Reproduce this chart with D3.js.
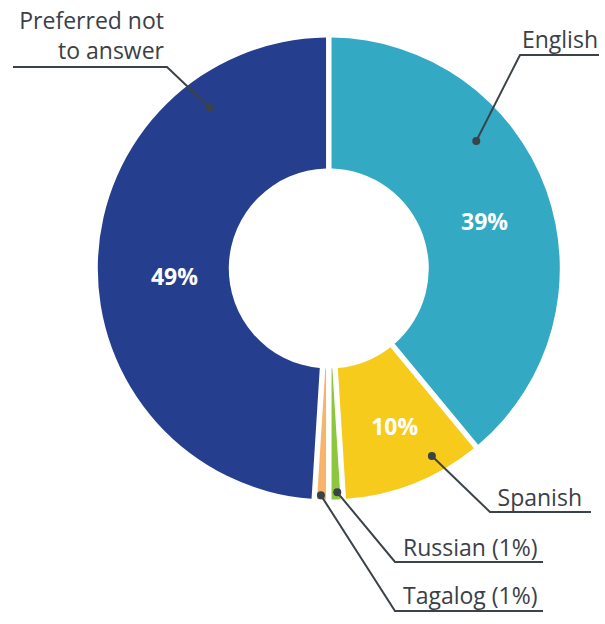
<!DOCTYPE html>
<html>
<head>
<meta charset="utf-8">
<script src="https://cdn.jsdelivr.net/npm/d3@7"></script>
<style>
  body { margin: 0; background: #fff; }
  svg text { font-family: "Open Sans", sans-serif; }
</style>
</head>
<body>
<div id="chart"></div>
<script>
// data
var categories = ["English", "Spanish", "Russian", "Tagalog", "Preferred not to answer"];
var values = [39, 10, 1, 1, 49];
var colors = ["#33a9c4", "#f6cb1b", "#8dc63f", "#f7b56b", "#253f8e"];
var pctLabels = ["39%", "10%", "", "", "49%"];
var calloutText = [["English"], ["Spanish"], ["Russian (1%)"], ["Tagalog (1%)"], ["Preferred not", "to answer"]];

var width = 605, height = 624;
var cx = 328.8, cy = 268.5, outerR = 231, innerR = 100;

var svg = d3.select("#chart").append("svg").attr("width", width).attr("height", height);
var g = svg.append("g").attr("transform", "translate(" + cx + "," + cy + ")");

var data = categories.map(function(c, i){ return {name: c, value: values[i], color: colors[i], pct: pctLabels[i], text: calloutText[i], idx: i}; });

var pie = d3.pie().sort(null).value(d => d.value);
var arcs = pie(data);

var arc = d3.arc().innerRadius(innerR).outerRadius(outerR)
    .padAngle(5.5 / Math.sqrt(innerR*innerR + outerR*outerR));

g.selectAll("path.slice").data(arcs).enter().append("path")
    .attr("class", "slice")
    .attr("d", arc)
    .attr("fill", d => d.data.color);

// small nudges so the % labels sit where the original has them
var pctShift = [[0, 9], [5, 5], [0, 0], [0, 0], [11, 14]];

g.selectAll("text.pct").data(arcs.filter(d => d.data.pct)).enter().append("text")
    .attr("class", "pct")
    .attr("x", d => arc.centroid(d)[0] + pctShift[d.data.idx][0])
    .attr("y", d => arc.centroid(d)[1] + pctShift[d.data.idx][1])
    .attr("dy", "0.35em")
    .attr("text-anchor", "middle")
    .attr("fill", "#fff")
    .style("font-size", "23px")
    .style("font-weight", "bold")
    .text(d => d.data.pct);

// callouts: where the dot sits in the slice (fraction of angle, radius) and where the label goes
var callouts = [
  {frac: 0.35, r: 195, lineY: 55, x1: 520, x2: 599, anchor: "end", tx: 598, ty: 48},
  {frac: 0.30, r: 214, lineY: 512, x1: 490, x2: 591, anchor: "end", tx: 582, ty: 506},
  {frac: 0.40, r: 224, lineY: 562, x1: 395, x2: 543, anchor: "start", tx: 403, ty: 556},
  {frac: 0.55, r: 227, lineY: 611, x1: 395, x2: 543, anchor: "start", tx: 403, ty: 604},
  {frac: 0.793, r: 200, lineY: 67, x1: 167, x2: 13, anchor: "end", tx: 164, ty: 29}
];

var lab = svg.append("g");
arcs.forEach(function(d, i){
  var c = callouts[i];
  var a = d.startAngle + (d.endAngle - d.startAngle) * c.frac;
  var px = cx + c.r * Math.sin(a), py = cy - c.r * Math.cos(a);
  lab.append("polyline")
    .attr("points", [[px, py], [c.x1, c.lineY], [c.x2, c.lineY]].map(p => p.join(",")).join(" "))
    .attr("fill", "none")
    .attr("stroke", "#3b4349")
    .attr("stroke-width", 2);
  lab.append("circle").attr("cx", px).attr("cy", py).attr("r", 4).attr("fill", "#3b4349");
  var t = lab.append("text")
    .attr("x", c.tx).attr("y", c.ty)
    .attr("text-anchor", c.anchor)
    .attr("fill", "#3b4046")
    .style("font-size", "23px");
  d.data.text.forEach(function(s, j){
    t.append("tspan").attr("x", c.tx).attr("dy", j == 0 ? 0 : 30).text(s);
  });
});
</script>
</body>
</html>
